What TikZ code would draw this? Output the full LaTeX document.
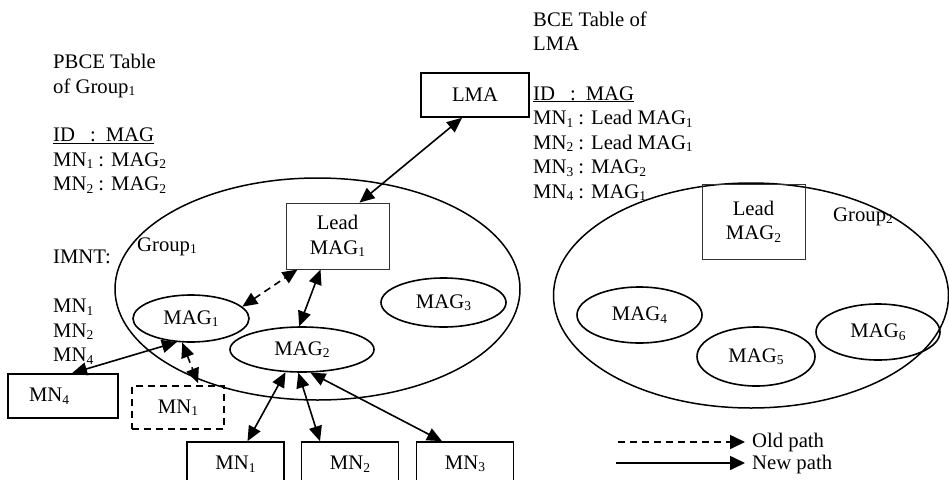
\documentclass[tikz,border=0pt]{standalone}
\usepackage{fontspec}
\setmainfont{Liberation Serif}
\usetikzlibrary{arrows.meta,shapes.geometric,calc}

% lowered, smaller index text (MN_1, MAG_2, ...)
\newcommand\lsub[1]{\raisebox{-2.5pt}{\fontsize{13.5}{13.5}\selectfont #1}}

\tikzset{
  hd/.tip={Triangle[length=15pt,width=13pt]},
  hdbig/.tip={Triangle[length=15pt,width=14pt]},
  txt/.style={font=\fontsize{20.7}{24.5}\selectfont, inner sep=0pt},
  grp/.style={draw, ellipse, line width=1.5pt, inner sep=0pt},
  mag/.style={draw, ellipse, line width=1.6pt, inner sep=0pt, txt},
  mnbox/.style={draw, rectangle, line width=1.6pt, minimum width=97pt,
    minimum height=44pt, txt},
  leadbox/.style={draw=black!80, line width=0.9pt, minimum width=103pt,
    align=center, txt},
  newpath/.style={line width=1.6pt, {hd}-{hd}},
  oldpath/.style={newpath, dash pattern=on 7pt off 5pt},
}

\begin{document}
\begin{tikzpicture}[x=1pt,y=-1pt]
\useasboundingbox (0,0) rectangle (949,479);
\clip (0,0) rectangle (949,479);

% groups
\node[grp, minimum width=405pt, minimum height=222pt] (group1) at (317.5,289) {};
\node[grp, minimum width=395pt, minimum height=225pt] (group2) at (751,295.5) {};
\node[txt, anchor=base west] (g1label) at (137,251) {Group\lsub{1}};
\node[txt, anchor=base west] (g2label) at (833,221) {Group\lsub{2}};

% LMA and lead MAGs
\node[draw, line width=1.6pt, minimum width=108pt, minimum height=44pt, txt] (lma) at (475,95) {LMA};
\node[leadbox, minimum height=66pt] (lead1) at (337.5,236) {Lead\\MAG\lsub{1}};
\node[leadbox, minimum height=75pt] (lead2) at (753.5,221.5) {Lead\\MAG\lsub{2}};

% MAG ellipses
\node[mag, minimum width=116pt, minimum height=47pt] (mag1) at (191,318.5) {MAG\lsub{1}};
\node[mag, minimum width=144pt, minimum height=45pt] (mag2) at (302,349.5) {MAG\lsub{2}};
\node[mag, minimum width=125pt, minimum height=49pt] (mag3) at (443.5,302.5) {MAG\lsub{3}};
\node[mag, minimum width=125pt, minimum height=56pt] (mag4) at (639.5,315) {MAG\lsub{4}};
\node[mag, minimum width=118pt, minimum height=59pt] (mag5) at (756,356.5) {MAG\lsub{5}};
\node[mag, minimum width=124pt, minimum height=56pt] (mag6) at (878,332) {MAG\lsub{6}};

% mobile nodes
\node[mnbox, minimum width=0pt, text width=68pt, inner xsep=21pt, align=left] (mn4) at (63,396) {MN\lsub{4}};
\node[mnbox, dashed, dash pattern=on 7pt off 5pt, minimum width=92pt, minimum height=43pt] (mn1old) at (178,407.5) {MN\lsub{1}};
\node[mnbox] (mn1) at (235.5,464) {MN\lsub{1}};
\node[mnbox] (mn2) at (350,464) {MN\lsub{2}};
\node[mnbox] (mn3) at (465,464) {MN\lsub{3}};

% tables
\node[txt, font=\fontsize{20.7}{24.4}\selectfont, align=left, anchor=north west] (pbce) at (53,53.5)
  {\rule{0pt}{15pt}PBCE Table\\
   of Group\lsub{1}\\[24.4pt]
   \underline{ID\hspace{15pt}:\hspace{10pt}MAG}\\
   MN\lsub{1} : MAG\lsub{2}\\
   MN\lsub{2} : MAG\lsub{2}\\[48.8pt]
   IMNT:\\[24.4pt]
   MN\lsub{1}\\
   MN\lsub{2}\\
   MN\lsub{4}};
\node[txt, font=\fontsize{20.7}{24.6}\selectfont, align=left, anchor=north west] (bce) at (533,11)
  {\rule{0pt}{15pt}BCE Table of\\
   LMA\\[24.6pt]
   \underline{ID\hspace{15pt}:\hspace{10pt}MAG}\\
   MN\lsub{1} : Lead MAG\lsub{1}\\
   MN\lsub{2} : Lead MAG\lsub{1}\\
   MN\lsub{3} : MAG\lsub{2}\\
   MN\lsub{4} : MAG\lsub{1}};

% paths
\draw[newpath] ($(lma.south)+(-13,0)$) -- ($(lead1.north)+(22,0)$);
\draw[oldpath] (mag1.13) -- ($(lead1.south)+(-40,0)$);
\draw[newpath] ($(lead1.south)+(-17,0)$) -- (mag2.97);
\draw[newpath] ($(mn4.north)+(9,0)$) -- (mag1.239);
\draw[oldpath] (mag1.250) -- ($(mn1old.north)+(20,-2)$);
\draw[newpath] (mag2.234) -- ($(mn1.north)+(12,0)$);
\draw[newpath] (mag2.261) -- ($(mn2.north)+(-30,0)$);
\draw[newpath] (mag2.290) -- ($(mn3.north)+(-23,0)$);

% legend
\coordinate (oldA) at (618,442);
\coordinate (oldB) at (745,442);
\coordinate (newA) at (616,463);
\coordinate (newB) at (745,463);
\draw[line width=1.6pt, dash pattern=on 7pt off 5pt, -{hdbig}] (oldA) -- (oldB);
\draw[line width=1.6pt, -{hdbig}] (newA) -- (newB);
\node[txt, anchor=base west] (oldlbl) at (752,447) {Old path};
\node[txt, anchor=base west] (newlbl) at (752,469.5) {New path};
\end{tikzpicture}
\end{document}
